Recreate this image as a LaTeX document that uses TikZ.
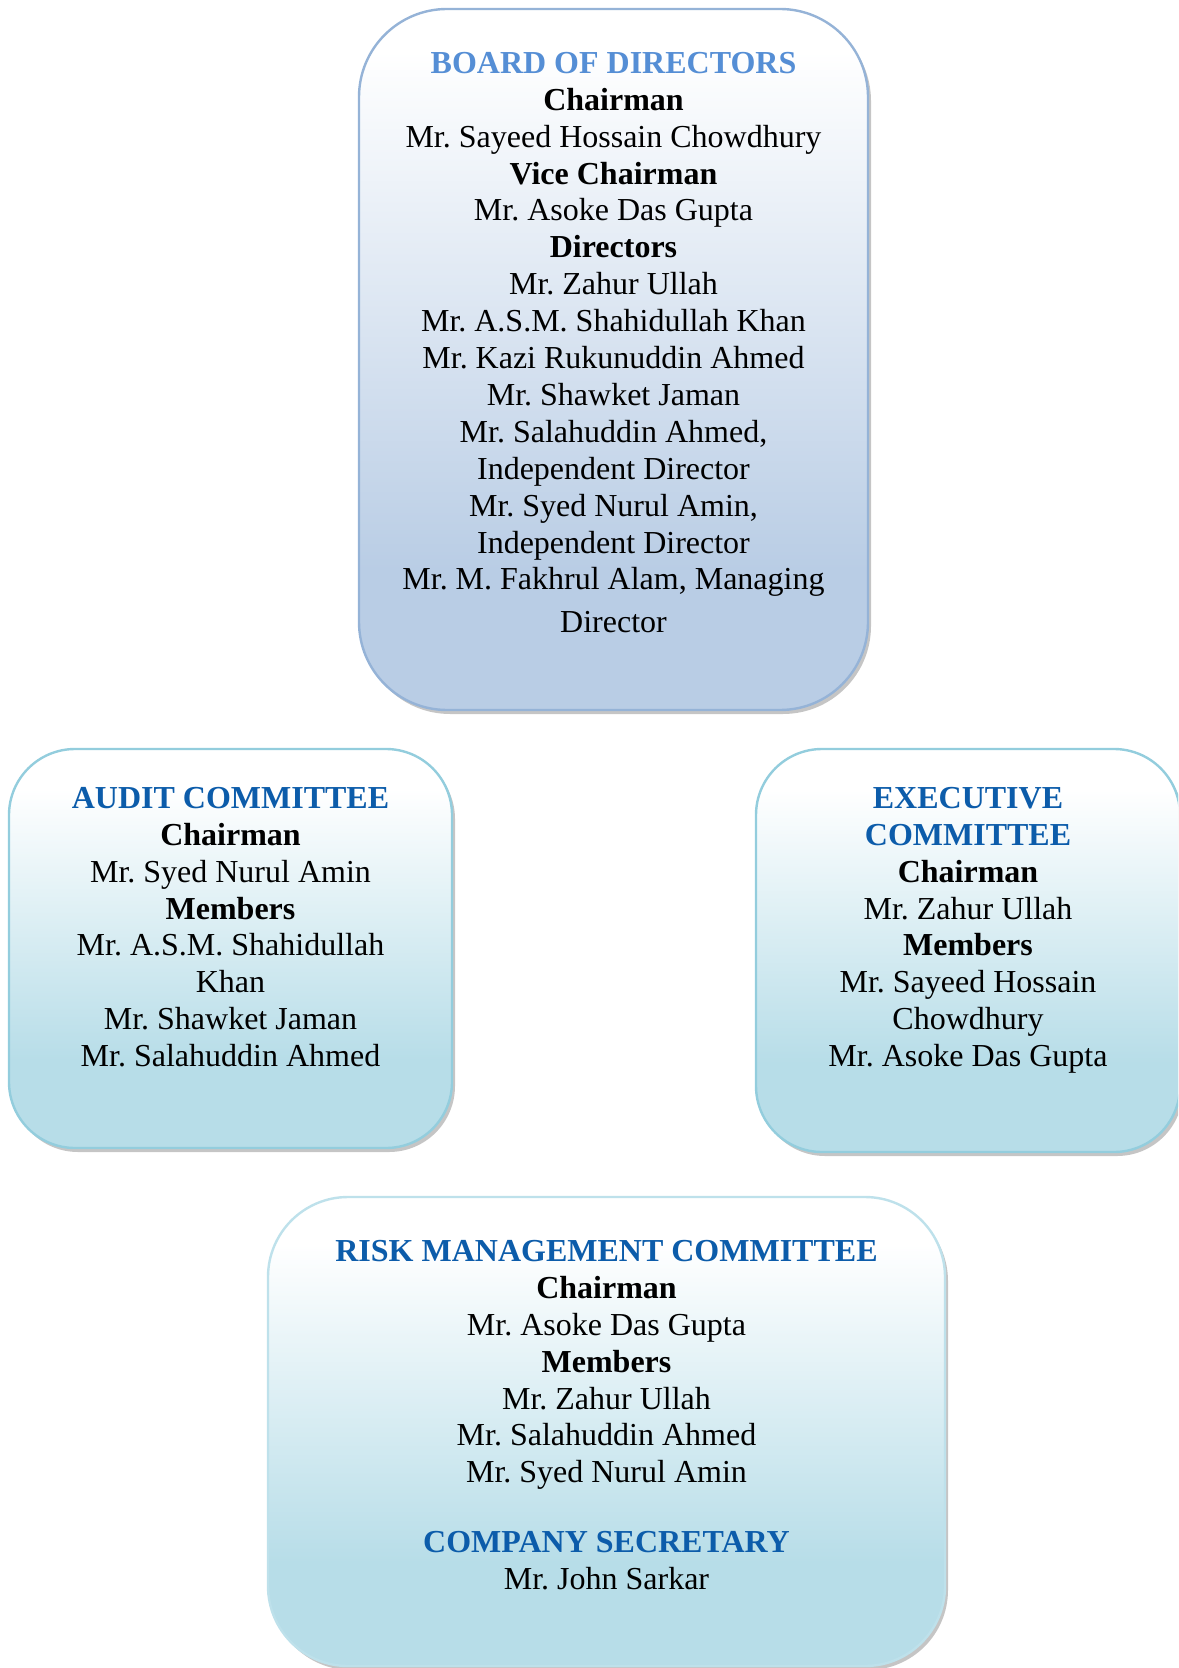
\documentclass[tikz,border=0pt]{standalone}
\usepackage{fontspec}
\setmainfont{Liberation Serif}
\usetikzlibrary{positioning,shadows}

\definecolor{boardline}{RGB}{149,179,215}
\definecolor{boardfill}{RGB}{185,205,229}
\definecolor{commline}{RGB}{147,205,221}
\definecolor{commfill}{RGB}{183,221,232}
\definecolor{boardhead}{RGB}{85,142,213}
\definecolor{commhead}{RGB}{12,92,170}

\pgfdeclareverticalshading{boardfade}{100bp}{color(0bp)=(boardfill); color(35bp)=(boardfill); color(72bp)=(white); color(100bp)=(white)}
\pgfdeclareverticalshading{commfade}{100bp}{color(0bp)=(commfill); color(36bp)=(commfill); color(70bp)=(white); color(100bp)=(white)}

\begin{document}
\begin{tikzpicture}[x=0.5pt,y=0.5pt,
  box/.style={draw, line width=1.2pt, inner sep=0pt,
    drop shadow={shadow xshift=1.5pt, shadow yshift=-2pt, fill=black!45, opacity=.5}},
  boardbox/.style={box, draw=boardline, shading=boardfade, rounded corners=44pt},
  commbox/.style={box, draw=commline, shading=commfade, rounded corners=33pt},
  txt/.style={align=center, inner sep=0pt, font={\fontsize{16}{18.45}\selectfont\frenchspacing}}]
  \useasboundingbox (0,0) rectangle (1178,-1668);
  \clip (0,0) rectangle (1178,-1668);
  % BOARD
  \node[boardbox, minimum width=254.5pt, minimum height=350.5pt] (board) at (613.5,-359.5) {};
  \node[txt, below=22pt of board.north] (boardtxt) {%
    \textcolor{boardhead}{\bfseries BOARD OF DIRECTORS}\\
    \textbf{Chairman}\\
    Mr. Sayeed Hossain Chowdhury\\
    \textbf{Vice Chairman}\\
    Mr. Asoke Das Gupta\\
    \textbf{Directors}\\
    Mr. Zahur Ullah\\
    Mr. A.S.M. Shahidullah Khan\\
    Mr. Kazi Rukunuddin Ahmed\\
    Mr. Shawket Jaman\\
    Mr. Salahuddin Ahmed,\\
    Independent Director\\
    Mr. Syed Nurul Amin,\\
    Independent Director\\
    Mr. M. Fakhrul Alam, Managing\\[2.9pt]
    Director};
  % AUDIT
  \node[commbox, minimum width=221.5pt, minimum height=199.5pt] (audit) at (230.5,-948.5) {};
  \node[txt, below=19.5pt of audit.north] (audittxt) {%
    \textcolor{commhead}{\bfseries AUDIT COMMITTEE}\\
    \textbf{Chairman}\\
    Mr. Syed Nurul Amin\\
    \textbf{Members}\\
    Mr. A.S.M. Shahidullah\\
    Khan\\
    Mr. Shawket Jaman\\
    Mr. Salahuddin Ahmed};
  % EXECUTIVE
  \node[commbox, minimum width=212pt, minimum height=201.5pt] (exec) at (968,-950.5) {};
  \node[txt, below=19.5pt of exec.north] (exectxt) {%
    \textcolor{commhead}{\bfseries EXECUTIVE}\\
    \textcolor{commhead}{\bfseries COMMITTEE}\\
    \textbf{Chairman}\\
    Mr. Zahur Ullah\\
    \textbf{Members}\\
    Mr. Sayeed Hossain\\
    Chowdhury\\
    Mr. Asoke Das Gupta};
  % RISK
  \node[commbox, draw=commline!60, rounded corners=40pt, minimum width=338.5pt, minimum height=234.5pt] (risk) at (606.5,-1431.5) {};
  \node[txt, below=22pt of risk.north] (risktxt) {%
    \textcolor{commhead}{\bfseries RISK MANAGEMENT COMMITTEE}\\
    \textbf{Chairman}\\
    Mr. Asoke Das Gupta\\
    \textbf{Members}\\
    Mr. Zahur Ullah\\
    Mr. Salahuddin Ahmed\\
    Mr. Syed Nurul Amin\\[16.2pt]
    \textcolor{commhead}{\bfseries COMPANY SECRETARY}\\
    Mr. John Sarkar};
\end{tikzpicture}
\end{document}
